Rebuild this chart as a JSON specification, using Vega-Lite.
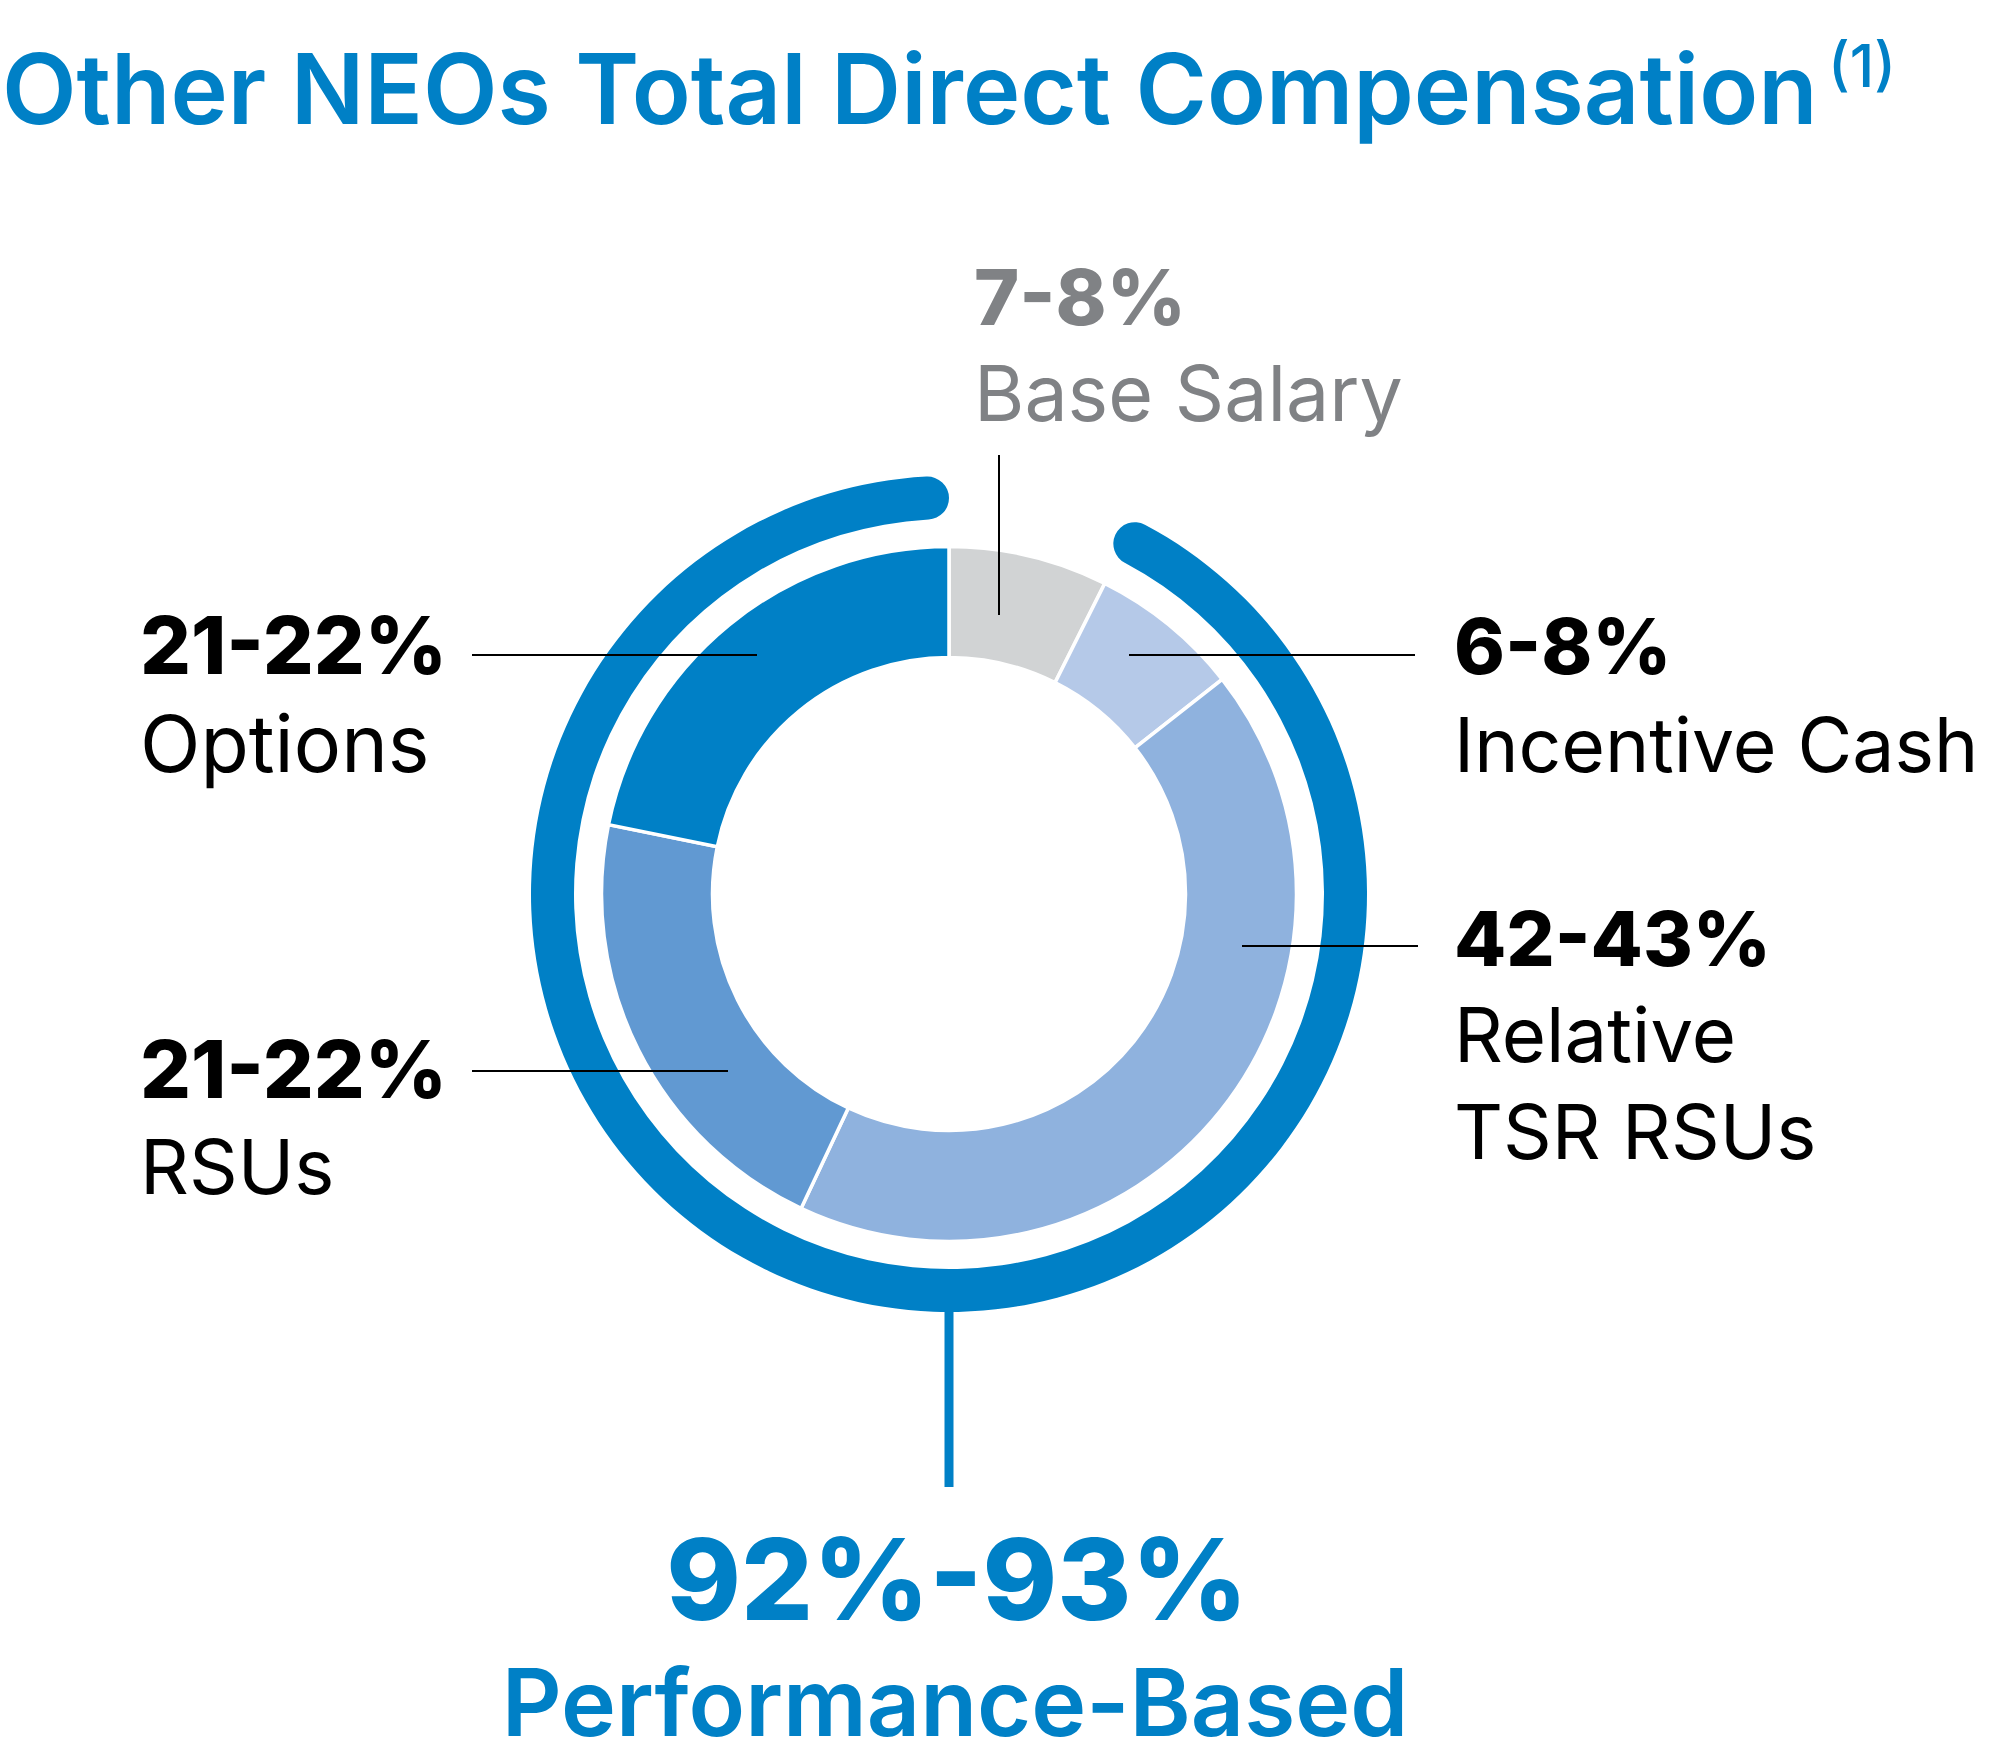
{
  "$schema": "https://vega.github.io/schema/vega-lite/v6.json",
  "width": 1898,
  "height": 1732,
  "autosize": {"type": "none"},
  "padding": {"left": 0, "top": 28, "right": 92, "bottom": 0},
  "background": "white",
  "config": {"view": {"stroke": null}, "font": "Inter"},
  "datasets": {
    "segments": [
      {"segment": "Base Salary", "order": 1, "share": 7.4, "range": "7-8%", "label": "Base Salary"},
      {"segment": "Incentive Cash", "order": 2, "share": 7.0, "range": "6-8%", "label": "Incentive Cash"},
      {"segment": "Relative TSR RSUs", "order": 3, "share": 42.6, "range": "42-43%", "label": "Relative\nTSR RSUs"},
      {"segment": "RSUs", "order": 4, "share": 21.2, "range": "21-22%", "label": "RSUs"},
      {"segment": "Options", "order": 5, "share": 21.8, "range": "21-22%", "label": "Options"}
    ],
    "ring": [
      {"part": "Fixed", "order": 1, "share": 6.9, "range": "", "label": ""},
      {"part": "Performance-Based", "order": 2, "share": 93.1, "range": "92%-93%", "label": "Performance-Based"}
    ],
    "titles": [
      {"id": "title", "text": "Other NEOs Total Direct Compensation"},
      {"id": "note", "text": "(1)"}
    ]
  },
  "layer": [
    {
      "data": {"name": "segments"},
      "mark": {"type": "arc", "innerRadius": 236.5, "outerRadius": 347.5, "stroke": "#ffffff", "strokeWidth": 3.5},
      "encoding": {
        "theta": {"field": "share", "type": "quantitative", "stack": true},
        "order": {"field": "order", "type": "quantitative"},
        "color": {
          "field": "segment", "type": "nominal", "legend": null,
          "scale": {
            "domain": ["Base Salary", "Incentive Cash", "Relative TSR RSUs", "RSUs", "Options"],
            "range": ["#d1d3d4", "#b5c9e8", "#8fb2de", "#6199d2", "#0080c6"]
          }
        }
      }
    },
    {
      "data": {"name": "ring"},
      "mark": {"type": "arc", "innerRadius": 375, "outerRadius": 418, "cornerRadius": 21.5, "fill": "#0080c6"},
      "encoding": {
        "theta": {"field": "share", "type": "quantitative", "stack": true},
        "order": {"field": "order", "type": "quantitative"},
        "fillOpacity": {"condition": {"test": "datum.part === 'Fixed'", "value": 0}, "value": 1}
      }
    },
    {
      "data": {"name": "ring"},
      "transform": [{"filter": "datum.part === 'Performance-Based'"}],
      "mark": {"type": "rule", "stroke": "#0080c6", "strokeWidth": 9},
      "encoding": {"x": {"value": 949}, "y": {"value": 1272}, "y2": {"value": 1459}}
    },
    {
      "data": {"name": "segments"},
      "transform": [{"filter": "datum.segment === 'Base Salary'"}],
      "mark": {"type": "rule", "stroke": "#000000", "strokeWidth": 2},
      "encoding": {"x": {"value": 999}, "y": {"value": 427}, "y2": {"value": 587}}
    },
    {
      "data": {"name": "segments"},
      "transform": [{"filter": "datum.segment === 'Options'"}],
      "mark": {"type": "rule", "stroke": "#000000", "strokeWidth": 2},
      "encoding": {"x": {"value": 472}, "x2": {"value": 757}, "y": {"value": 627}}
    },
    {
      "data": {"name": "segments"},
      "transform": [{"filter": "datum.segment === 'RSUs'"}],
      "mark": {"type": "rule", "stroke": "#000000", "strokeWidth": 2},
      "encoding": {"x": {"value": 472}, "x2": {"value": 728}, "y": {"value": 1043}}
    },
    {
      "data": {"name": "segments"},
      "transform": [{"filter": "datum.segment === 'Incentive Cash'"}],
      "mark": {"type": "rule", "stroke": "#000000", "strokeWidth": 2},
      "encoding": {"x": {"value": 1129}, "x2": {"value": 1415}, "y": {"value": 627}}
    },
    {
      "data": {"name": "segments"},
      "transform": [{"filter": "datum.segment === 'Relative TSR RSUs'"}],
      "mark": {"type": "rule", "stroke": "#000000", "strokeWidth": 2},
      "encoding": {"x": {"value": 1242}, "x2": {"value": 1418}, "y": {"value": 918}}
    },
    {
      "data": {"name": "titles"},
      "transform": [{"filter": "datum.id === 'title'"}],
      "mark": {"type": "text", "x": 2, "y": 96, "align": "left", "baseline": "alphabetic", "fontSize": 97, "fontWeight": 600, "color": "#0080c6"},
      "encoding": {"text": {"field": "text"}}
    },
    {
      "data": {"name": "titles"},
      "transform": [{"filter": "datum.id === 'note'"}],
      "mark": {"type": "text", "x": 1828, "y": 59, "align": "left", "baseline": "alphabetic", "fontSize": 59, "fontWeight": 500, "color": "#0080c6"},
      "encoding": {"text": {"field": "text"}}
    },
    {
      "data": {"name": "segments"},
      "transform": [{"filter": "datum.segment === 'Base Salary'"}],
      "mark": {"type": "text", "x": 974, "y": 297, "align": "left", "baseline": "alphabetic", "fontSize": 77, "fontWeight": 800, "color": "#808285"},
      "encoding": {"text": {"field": "range"}}
    },
    {
      "data": {"name": "segments"},
      "transform": [{"filter": "datum.segment === 'Base Salary'"}],
      "mark": {"type": "text", "x": 974, "y": 393, "align": "left", "baseline": "alphabetic", "fontSize": 77, "fontWeight": 400, "color": "#808285"},
      "encoding": {"text": {"field": "label"}}
    },
    {
      "data": {"name": "segments"},
      "transform": [{"filter": "datum.segment === 'Options'"}],
      "mark": {"type": "text", "x": 140, "y": 646, "align": "left", "baseline": "alphabetic", "fontSize": 80, "fontWeight": 800, "color": "#000000"},
      "encoding": {"text": {"field": "range"}}
    },
    {
      "data": {"name": "segments"},
      "transform": [{"filter": "datum.segment === 'Options'"}],
      "mark": {"type": "text", "x": 140, "y": 744, "align": "left", "baseline": "alphabetic", "fontSize": 79, "fontWeight": 400, "color": "#000000"},
      "encoding": {"text": {"field": "label"}}
    },
    {
      "data": {"name": "segments"},
      "transform": [{"filter": "datum.segment === 'RSUs'"}],
      "mark": {"type": "text", "x": 140, "y": 1070, "align": "left", "baseline": "alphabetic", "fontSize": 80, "fontWeight": 800, "color": "#000000"},
      "encoding": {"text": {"field": "range"}}
    },
    {
      "data": {"name": "segments"},
      "transform": [{"filter": "datum.segment === 'RSUs'"}],
      "mark": {"type": "text", "x": 140, "y": 1166, "align": "left", "baseline": "alphabetic", "fontSize": 76, "fontWeight": 400, "color": "#000000"},
      "encoding": {"text": {"field": "label"}}
    },
    {
      "data": {"name": "segments"},
      "transform": [{"filter": "datum.segment === 'Incentive Cash'"}],
      "mark": {"type": "text", "x": 1454, "y": 646, "align": "left", "baseline": "alphabetic", "fontSize": 77, "fontWeight": 800, "color": "#000000"},
      "encoding": {"text": {"field": "range"}}
    },
    {
      "data": {"name": "segments"},
      "transform": [{"filter": "datum.segment === 'Incentive Cash'"}],
      "mark": {"type": "text", "x": 1454, "y": 744, "align": "left", "baseline": "alphabetic", "fontSize": 75, "fontWeight": 400, "color": "#000000"},
      "encoding": {"text": {"field": "label"}}
    },
    {
      "data": {"name": "segments"},
      "transform": [{"filter": "datum.segment === 'Relative TSR RSUs'"}],
      "mark": {"type": "text", "x": 1454, "y": 938, "align": "left", "baseline": "alphabetic", "fontSize": 76, "fontWeight": 800, "color": "#000000"},
      "encoding": {"text": {"field": "range"}}
    },
    {
      "data": {"name": "segments"},
      "transform": [{"filter": "datum.segment === 'Relative TSR RSUs'"}],
      "mark": {"type": "text", "x": 1454, "y": 1034, "align": "left", "baseline": "alphabetic", "fontSize": 76, "fontWeight": 400, "color": "#000000", "lineBreak": "\n", "lineHeight": 97},
      "encoding": {"text": {"field": "label"}}
    },
    {
      "data": {"name": "ring"},
      "transform": [{"filter": "datum.part === 'Performance-Based'"}],
      "mark": {"type": "text", "x": 957, "y": 1592, "align": "center", "baseline": "alphabetic", "fontSize": 113, "fontWeight": 800, "color": "#0080c6"},
      "encoding": {"text": {"field": "range"}}
    },
    {
      "data": {"name": "ring"},
      "transform": [{"filter": "datum.part === 'Performance-Based'"}],
      "mark": {"type": "text", "x": 955, "y": 1708, "align": "center", "baseline": "alphabetic", "fontSize": 93, "fontWeight": 600, "color": "#0080c6"},
      "encoding": {"text": {"field": "label"}}
    }
  ]
}
